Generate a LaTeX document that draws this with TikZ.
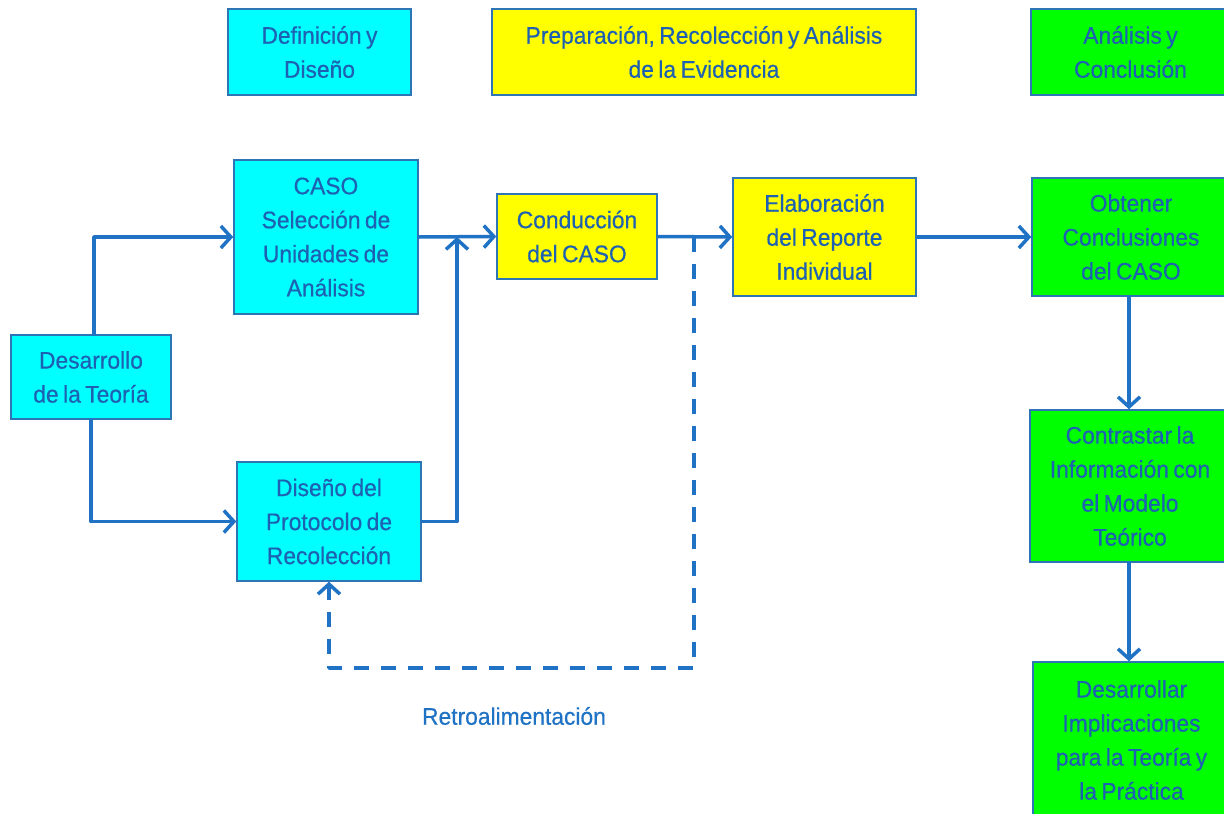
\documentclass[tikz,border=0pt]{standalone}
\usepackage{fontspec}
\setmainfont[FakeStretch=0.95, FakeBold=0.5, WordSpace={0.7}]{Liberation Sans}
\usetikzlibrary{arrows.meta}
\definecolor{boxcyan}{HTML}{00FFFF}
\definecolor{boxyellow}{HTML}{FFFF00}
\definecolor{boxgreen}{HTML}{00FF00}
\definecolor{edgeblue}{HTML}{2E75B6}
\definecolor{lineblue}{HTML}{1F72C4}
\definecolor{textblue}{HTML}{1E60B2}
\tikzset{
  box/.style={draw=edgeblue, line width=1.5pt, rectangle, inner sep=0pt,
    align=center, text=textblue, font=\fontsize{24}{34}\selectfont},
  cyanbox/.style={box, fill=boxcyan},
  yellowbox/.style={box, fill=boxyellow},
  greenbox/.style={box, fill=boxgreen},
  arr/.style={draw=lineblue, line width=3.5pt, line cap=round, line join=round,
    -{Straight Barb[length=10pt, width=22pt, line width=3.5pt]}},
  feedback/.style={arr, dash pattern=on 15pt off 12pt, line cap=butt},
}
\begin{document}
\begin{tikzpicture}[x=1pt, y=-1pt]
\useasboundingbox (0,0) rectangle (1224,814);
\clip (0,0) rectangle (1224,814);

% phase headers
\node[cyanbox, minimum width=183pt, minimum height=86pt] (hdA) at (319.5,52) {Definición y\\Diseño};
\node[yellowbox, minimum width=424pt, minimum height=86pt] (hdB) at (704,52) {Preparación, Recolección y Análisis\\de la Evidencia};
\node[greenbox, minimum width=199pt, minimum height=86pt] (hdC) at (1130.5,52) {Análisis y\\Conclusión};

% definition and design
\node[cyanbox, minimum width=160pt, minimum height=84pt] (teo) at (91,377) {Desarrollo\\de la Teoría};
\node[cyanbox, minimum width=184pt, minimum height=154pt] (caso) at (326,237) {CASO\\Selección de\\Unidades de\\Análisis};
\node[cyanbox, minimum width=184pt, minimum height=119pt] (prot) at (329,521.5) {Diseño del\\Protocolo de\\Recolección};

% preparation, collection and analysis
\node[yellowbox, minimum width=160pt, minimum height=85pt] (cond) at (577,236.5) {Conducción\\del CASO};
\node[yellowbox, minimum width=183pt, minimum height=118pt] (elab) at (824.5,237) {Elaboración\\del Reporte\\Individual};

% analysis and conclusion
\node[greenbox, minimum width=198pt, minimum height=118pt] (obt) at (1131,237) {Obtener\\Conclusiones\\del CASO};
\node[greenbox, minimum width=200pt, minimum height=152pt] (cont) at (1130,486) {Contrastar la\\Información con\\el Modelo\\Teórico};
\node[greenbox, minimum width=197pt, minimum height=156pt] (des) at (1131.5,740) {Desarrollar\\Implicaciones\\para la Teoría y\\la Práctica};

\node[text=lineblue, font=\fontsize{24}{28}\selectfont] (retro) at (514,716) {Retroalimentación};

% connectors
\coordinate (join) at (457,237);
\coordinate (fb1) at (694,237);
\coordinate (fb2) at (694,668);

\draw[arr] ([xshift=3pt]teo.north) |- (caso.west);
\draw[arr] (teo.south) |- (prot.west);
\draw[arr] (caso.east) -- (cond.west);
\draw[arr] (prot.east) -| (join);
\draw[arr] (cond.east) -- (elab.west);
\draw[arr] (elab.east) -- (obt.west);
\draw[arr] ([xshift=-2pt]obt.south) -- ([xshift=-1pt]cont.north);
\draw[arr] ([xshift=-1pt]cont.south) -- ([xshift=-2.5pt]des.north);
\draw[feedback] (fb1) -- (fb2) -| (prot.south);
\end{tikzpicture}
\end{document}
